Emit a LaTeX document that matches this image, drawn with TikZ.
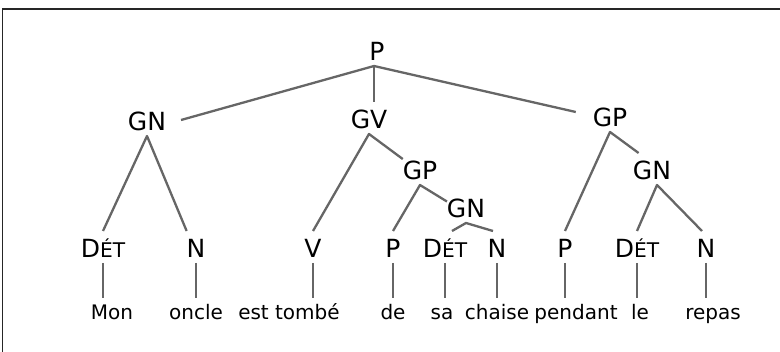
\documentclass[tikz,border=0pt]{standalone}
\usepackage{fontspec}
\setmainfont{DejaVu Sans}
\newcommand{\detlab}{D{\fontsize{20.2}{20.2}\selectfont ÉT}}
\tikzset{
  lab/.style={font=\fontsize{25}{25}\selectfont, inner sep=0pt, outer sep=0pt, text height=27pt, text depth=5pt, anchor=base},
  word/.style={font=\fontsize{20}{20}\selectfont, inner sep=0pt, outer sep=0pt, text height=22pt, text depth=5pt, anchor=base},
  branch/.style={draw=black!60, line width=2.3pt, line join=round},
  frame/.style={draw=black!85, line width=1.8pt}
}
\begin{document}
\begin{tikzpicture}[x=1pt,y=-1pt]
\useasboundingbox (0,0) rectangle (780,352);
\draw[frame] (2.5,360) -- (2.5,8.8) -- (790,8.8);
% labels
\node[lab] (P0) at (377,61) {P};
\node[lab] (GN1) at (147,131) {GN};
\node[lab] (GV) at (369,129) {GV};
\node[lab] (GP1) at (610,127) {GP};
\node[lab] (GP2) at (420,180) {GP};
\node[lab] (GN3) at (652,180) {GN};
\node[lab] (GN2) at (466,218) {GN};
\node[lab] (D1) at (103,258) {\detlab};
\node[lab] (N1) at (196,258) {N};
\node[lab] (V) at (313,258) {V};
\node[lab] (P2) at (393,258) {P};
\node[lab] (D2) at (445,258) {\detlab};
\node[lab] (N2) at (497,258) {N};
\node[lab] (P3) at (565,258) {P};
\node[lab] (D3) at (637,258) {\detlab};
\node[lab] (N3) at (706,258) {N};
% words
\node[word] (W1) at (112,320) {Mon};
\node[word] (W2) at (196,320) {oncle};
\node[word] (W3) at (289,320) {est tombé};
\node[word] (W4) at (393,320) {de};
\node[word] (W5) at (442,320) {sa};
\node[word] (W6) at (497,320) {chaise};
\node[word] (W7) at (576,320) {pendant};
\node[word] (W8) at (640,320) {le};
\node[word] (W9) at (713,320) {repas};
% branches
\draw[branch] ([xshift=15pt]GN1.east) -- ([xshift=-3pt]P0.south) -- ([shift={(-17pt,4pt)}]GP1.west);
\draw[branch] ([xshift=-3pt]P0.south) -- ([xshift=-3pt]P0.south |- GV.north);
\draw[branch] (D1.north) -- (GN1.south) -- (N1.north west);
\draw[branch] (V.north) -- (GV.south) -- (GP2.150);
\draw[branch] (P2.north) -- (GP2.south) -- (GN2.164);
\draw[branch] ([xshift=7pt]D2.north) -- (GN2.south) -- ([xshift=-4pt]N2.north);
\draw[branch] (P3.north) -- (GP1.south) -- (GN3.130);
\draw[branch] (D3.north) -- ([xshift=5pt]GN3.south) -- ([xshift=-4pt]N3.north);
\foreach \a/\b in {D1/W1,N1/W2,V/W3,P2/W4,D2/W5,N2/W6,P3/W7,D3/W8,N3/W9}
  \draw[branch] (\a.south) -- (\a.south |- \b.north);
\end{tikzpicture}
\end{document}
